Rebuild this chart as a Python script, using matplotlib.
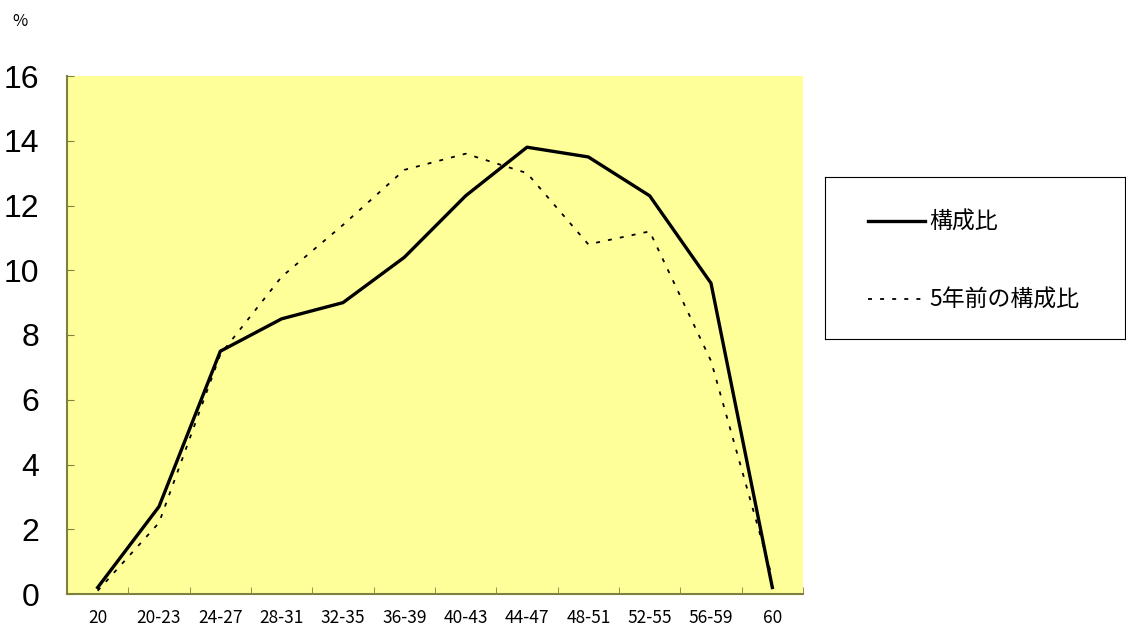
import matplotlib.pyplot as plt
import numpy as np

plt.rcParams['font.family'] = ['Noto Sans CJK JP', 'DejaVu Sans']

ages = ["20", "20-23", "24-27", "28-31", "32-35", "36-39", "40-43",
        "44-47", "48-51", "52-55", "56-59", "60"]
ratio_now = [0.2, 2.7, 7.5, 8.5, 9.0, 10.4, 12.3, 13.8, 13.5, 12.3, 9.6, 0.2]
ratio_5y = [0.1, 2.2, 7.4, 9.8, 11.4, 13.1, 13.6, 13.0, 10.8, 11.2, 7.2, 0.5]

fig = plt.figure(figsize=(11.26, 6.3), dpi=100)
ax = fig.add_axes([67 / 1126, 36 / 630, 736 / 1126, 518 / 630])
ax.set_facecolor("#FFFF99")

x = np.arange(len(ages))
ax.plot(x, ratio_now, color="black", linewidth=2.4, label="構成比")
ax.plot(x, ratio_5y, color="black", linewidth=1.3, linestyle=(0, (2.2, 4.5)),
        label="5年前の構成比")

ax.set_xlim(-0.5, len(ages) - 0.5)
ax.set_ylim(0, 16)
ax.set_yticks(range(0, 17, 2))
ax.tick_params(axis="y", direction="in", length=5, labelsize=23, pad=20,
               color="#7f7f40")
for t in ax.get_yticklabels():
    t.set_family(["Liberation Sans", "DejaVu Sans"])
ax.set_xticks(x)
ax.set_xticklabels(ages)
ax.set_xticks(np.arange(-0.5, len(ages)), minor=True)
ax.tick_params(axis="x", which="major", length=0, labelsize=12.5, pad=11)
ax.tick_params(axis="x", which="minor", direction="in", length=5,
               color="#7f7f40")

for s in ["top", "right"]:
    ax.spines[s].set_visible(False)
for s in ["left", "bottom"]:
    ax.spines[s].set_color("#7f7f40")
    ax.spines[s].set_linewidth(1.5)

fig.text(12 / 1126, 1 - 22 / 630, "%", fontsize=12, va="center")

# legend box
lax = fig.add_axes([825 / 1126, 1 - 339 / 630, 300 / 1126, 162 / 630])
lax.set_xticks([])
lax.set_yticks([])
for s in lax.spines.values():
    s.set_color("black")
    s.set_linewidth(0.8)
handles, labels = ax.get_legend_handles_labels()
lax.legend(handles, labels, loc="center left", bbox_to_anchor=(0.143, 0.48),
           frameon=False, fontsize=16.5, handlelength=2.5, handletextpad=0.2,
           labelspacing=2.4, borderaxespad=0, borderpad=0)

fig.savefig("out.png", dpi=100)
